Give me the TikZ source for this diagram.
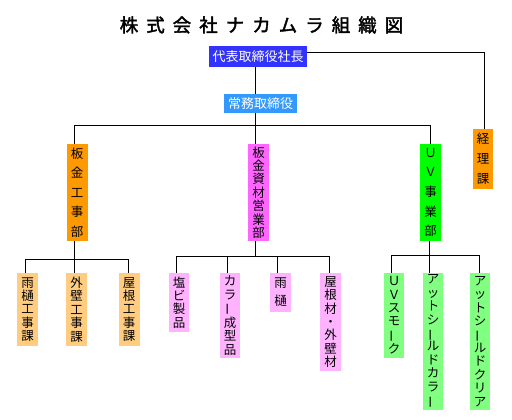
\documentclass[tikz,border=0pt]{standalone}
\usepackage{fontspec}
\newfontfamily\jp{Noto Sans CJK JP}
\newfontfamily\jpt{Noto Sans CJK JP}[FakeBold=2]
\definecolor{blueA}{RGB}{51,51,255}
\definecolor{blueB}{RGB}{51,153,255}
\definecolor{orangeD}{RGB}{255,153,0}
\definecolor{pinkD}{RGB}{255,102,255}
\definecolor{greenD}{RGB}{0,255,0}
\definecolor{orangeL}{RGB}{255,204,128}
\definecolor{pinkL}{RGB}{255,179,255}
\definecolor{greenL}{RGB}{128,255,128}
\newcommand\vbar{\rotatebox[origin=c]{90}{ー}}
\begin{document}
\begin{tikzpicture}[x=1pt,y=-1pt,
  box/.style={inner sep=0pt, align=center, text=black, font=\jp\fontsize{12.5}{13.4}\selectfont},
  wide/.style={box, font=\jp\fontsize{12.5}{19.6}\selectfont},
  head/.style={inner sep=0pt, text=white, font=\jp\fontsize{13}{13}\selectfont},
  conn/.style={line width=1pt, black}]
\fill[white] (0,0) rectangle (512,420);
\useasboundingbox (0,0) rectangle (512,420);

\node[font=\jpt\fontsize{18.5}{18.5}\selectfont] (title) at (261.5,25)
  {株\kern8pt 式\kern8pt 会\kern8pt 社\kern8pt ナ\kern8pt カ\kern8pt ム\kern8pt ラ\kern8pt 組\kern8pt 織\kern8pt 図};

\node[head, fill=blueA, minimum width=98, minimum height=20.7] (pres) at (258,56.3) {代表取締役社長};
\node[head, fill=blueB, minimum width=73, minimum height=19] (exec) at (260.5,103.5) {常務取締役};

\node[wide, fill=orangeD, minimum width=20, minimum height=60, font=\jp\fontsize{12.5}{20}\selectfont] (keiri) at (483,159) {経\\理\\課};

\node[wide, fill=orangeD, minimum width=21, minimum height=97] (d1) at (77,192.5) {板\\金\\工\\事\\部};
\node[box, fill=pinkD, minimum width=21, minimum height=97] (d2) at (258.5,192.5) {板\\金\\資\\材\\営\\業\\部};
\node[wide, fill=greenD, minimum width=21, minimum height=97] (d3) at (430.5,192.5) {Ｕ\\Ｖ\\事\\業\\部};

\node[box, fill=orangeL, minimum width=21, minimum height=73] (s1) at (27.5,309.5) {雨\\樋\\工\\事\\課};
\node[box, fill=orangeL, minimum width=21, minimum height=73] (s2) at (76.5,309.5) {外\\壁\\工\\事\\課};
\node[box, fill=orangeL, minimum width=21, minimum height=73] (s3) at (129,309.5) {屋\\根\\工\\事\\課};

\node[box, fill=pinkL, minimum width=20, minimum height=59] (p1) at (179,302.5) {塩\\ビ\\製\\品};
\node[box, fill=pinkL, minimum width=20, minimum height=85] (p2) at (230,315.5) {カ\\ラ\\\vbar\\成\\型\\品};
\node[box, fill=pinkL, minimum width=21, minimum height=39, font=\jp\fontsize{12.5}{18}\selectfont] (p3) at (280.5,292.5) {雨\\樋};
\node[box, fill=pinkL, minimum width=21, minimum height=98] (p4) at (330.5,322) {屋\\根\\材\\・\\外\\壁\\材};

\node[box, fill=greenL, minimum width=20, minimum height=85] (g1) at (394,315.5) {Ｕ\\Ｖ\\ス\\モ\\\vbar\\ク};
\node[box, fill=greenL, minimum width=20, minimum height=137] (g2) at (433,341.5) {ア\\ッ\\ト\\シ\\\vbar\\ル\\ド\\カ\\ラ\\\vbar};
\node[box, fill=greenL, minimum width=20, minimum height=137] (g3) at (480,341.5) {ア\\ッ\\ト\\シ\\\vbar\\ル\\ド\\ク\\リ\\ア};

\coordinate (busA) at (0,126);
\coordinate (busO) at (0,259);
\coordinate (busP) at (0,256);
\coordinate (busG) at (0,255);

\draw[conn] ([yshift=3.3pt]pres.east) -| ([xshift=1pt]keiri.north);
\draw[conn] ([xshift=-3pt]pres.south) -- ([xshift=-3pt]pres.south |- exec.north);
\draw[conn] ([xshift=-5.5pt]exec.south) -- ([xshift=-5.5pt]exec.south |- busA);
\draw[conn] ([xshift=-2.5pt]d1.north) -- ([xshift=-2.5pt]d1.north |- busA) -- ([xshift=-0.5pt]d3.north |- busA) -- ([xshift=-0.5pt]d3.north);
\draw[conn] ([xshift=-3.5pt]d2.north |- busA) -- ([xshift=-3.5pt]d2.north);

\draw[conn] ([xshift=-2.5pt]d1.south) -- ([xshift=-2.5pt]d1.south |- s2.north);
\draw[conn] ([xshift=-2.5pt]s1.north) -- ([xshift=-2.5pt]s1.north |- busO) -- ([xshift=-1pt]s3.north |- busO) -- ([xshift=-1pt]s3.north);

\draw[conn] ([xshift=-3.5pt]d2.south) -- ([xshift=-3.5pt]d2.south |- busP);
\draw[conn] ([xshift=-3pt]p1.north) -- ([xshift=-3pt]p1.north |- busP) -- ([xshift=-1.5pt]p4.north |- busP) -- ([xshift=-1.5pt]p4.north);
\draw[conn] ([xshift=-3pt]p2.north) -- ([xshift=-3pt]p2.north |- busP);
\draw[conn] ([xshift=-3.5pt]p3.north) -- ([xshift=-3.5pt]p3.north |- busP);

\draw[conn] ([xshift=-1.5pt]d3.south) -- ([xshift=-1.5pt]d3.south |- g2.north);
\draw[conn] ([xshift=-3pt]g1.north) -- ([xshift=-3pt]g1.north |- busG) -- ([xshift=-1pt]g3.north |- busG) -- ([xshift=-1pt]g3.north);
\end{tikzpicture}
\end{document}
